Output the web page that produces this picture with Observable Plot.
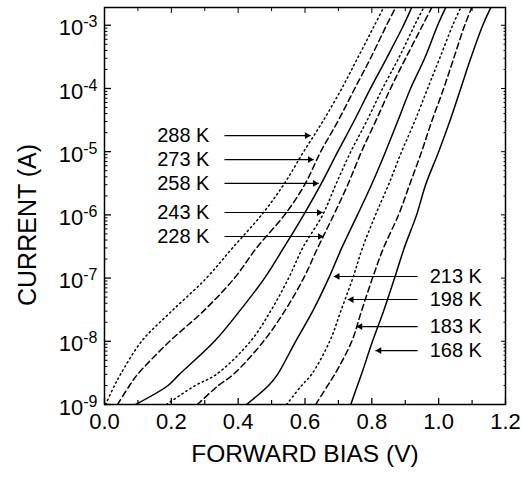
<!DOCTYPE html>
<html><head><meta charset="utf-8">
<script src="https://cdn.jsdelivr.net/npm/d3@7"></script>
<script src="https://cdn.jsdelivr.net/npm/@observablehq/plot@0.6"></script>
<style>
html,body{margin:0;padding:0;background:#fff;}
</style>
</head><body><div id="chart"></div>
<script>
// ---- data ----
const temperatures = [288, 273, 258, 243, 228, 213, 198, 183, 168];
const currentLevels = [1e-9, 2e-9, 3e-9, 1e-8, 3e-8, 1e-7, 3e-7, 1e-6, 3e-6, 1e-5, 3e-5, 1e-4, 3e-4, 1e-3, 1.9e-3];
const V288 = [0.003, 0.030, 0.048, 0.111, 0.201, 0.305, 0.383, 0.470, 0.536, 0.596, 0.653, 0.710, 0.757, 0.808, 0.835];
const V273 = [0.039, 0.075, 0.099, 0.195, 0.296, 0.389, 0.455, 0.539, 0.599, 0.647, 0.698, 0.749, 0.796, 0.844, 0.871];
const V258 = [0.093, 0.190, 0.224, 0.329, 0.404, 0.479, 0.536, 0.596, 0.647, 0.698, 0.746, 0.796, 0.844, 0.895, 0.919];
const V243 = [0.185, 0.272, 0.335, 0.437, 0.497, 0.551, 0.593, 0.653, 0.692, 0.737, 0.784, 0.832, 0.880, 0.928, 0.955];
const V228 = [0.278, 0.341, 0.386, 0.476, 0.539, 0.596, 0.638, 0.686, 0.728, 0.769, 0.811, 0.856, 0.901, 0.952, 0.979];
const V213 = [0.425, 0.491, 0.518, 0.572, 0.623, 0.671, 0.710, 0.757, 0.799, 0.841, 0.877, 0.916, 0.958, 0.997, 1.021];
const V198 = [0.545, 0.590, 0.620, 0.674, 0.707, 0.743, 0.772, 0.811, 0.850, 0.889, 0.928, 0.967, 1.003, 1.042, 1.066];
const V183 = [0.632, 0.668, 0.689, 0.740, 0.769, 0.802, 0.835, 0.880, 0.913, 0.949, 0.979, 1.015, 1.045, 1.078, 1.099];
const V168 = [0.737, 0.757, 0.769, 0.802, 0.835, 0.868, 0.897, 0.934, 0.961, 1.000, 1.033, 1.066, 1.096, 1.132, 1.156];
const voltageSeries = [V288, V273, V258, V243, V228, V213, V198, V183, V168];

const xTickValues = [0, 0.2, 0.4, 0.6, 0.8, 1.0, 1.2];
const xMinorTickValues = [0.1, 0.3, 0.5, 0.7, 0.9, 1.1];
const yTickValues = [1e-9, 1e-8, 1e-7, 1e-6, 1e-5, 1e-4, 1e-3];

// annotation labels (temperature, current at arrow, voltage of arrow tip)
const leftLabelTemps = [288, 273, 258, 243, 228];
const leftLabelCurrent = [1.8e-5, 7.5e-6, 3.14e-6, 1.09e-6, 4.55e-7];
const leftArrowTipV = [0.617, 0.626, 0.641, 0.653, 0.656];
const rightLabelTemps = [213, 198, 183, 168];
const rightLabelCurrent = [1.06e-7, 4.58e-8, 1.71e-8, 7.14e-9];
const rightArrowTipV = [0.686, 0.728, 0.754, 0.811];

// ---- styles ----
const styleCycle = ["dotted", "dashed", "solid"];
const dashes = {dotted: "1.4 3.3", dashed: "6 3.6", solid: null};

// ---- build tables ----
const rows = [];
temperatures.forEach((T, i) => {
  voltageSeries[i].forEach((v, j) => rows.push({T, V: v, I: currentLevels[j], style: styleCycle[i % 3]}));
});
const leftLabels = leftLabelTemps.map((t, i) => ({label: `${t} K`, I: leftLabelCurrent[i], tip: leftArrowTipV[i]}));
const rightLabels = rightLabelTemps.map((t, i) => ({label: `${t} K`, I: rightLabelCurrent[i], tip: rightArrowTipV[i]}));

const yMinorTicks = [];
yTickValues.forEach(d => { for (let k = 2; k <= 9; k++) { const v = d * k; if (v <= 1.91e-3) yMinorTicks.push(v); } });

const font = "Liberation Sans, Arial, Helvetica, sans-serif";

const lineMarks = styleCycle.map(s => Plot.line(rows.filter(r => r.style === s), {
  x: "V", y: "I", z: "T", stroke: "#000",
  strokeWidth: 1.5,
  strokeDasharray: dashes[s],
  curve: "catmull-rom", clip: true
}));

const plot = Plot.plot({
  width: 532, height: 477,
  marginLeft: 104, marginRight: 27, marginTop: 7, marginBottom: 73,
  style: {fontFamily: font, fontSize: "22px", color: "#000", background: "#fff"},
  x: {domain: [0, 1.2]},
  y: {type: "log", domain: [1e-9, 1.91e-3]},
  marks: [
    // inward ticks
    Plot.axisX({anchor: "bottom", ticks: xTickValues, tickSize: -6, fill: "none", label: null, strokeWidth: 1.3}),
    Plot.axisX({anchor: "bottom", ticks: xMinorTickValues, tickSize: -4, fill: "none", label: null, strokeWidth: 1.2}),
    Plot.axisX({anchor: "top", ticks: xTickValues, tickSize: -5, fill: "none", label: null}),
    Plot.axisX({anchor: "top", ticks: xMinorTickValues, tickSize: -3, fill: "none", label: null}),
    Plot.axisY({anchor: "left", ticks: yTickValues, tickSize: -7, fill: "none", label: null, strokeWidth: 1.3}),
    Plot.axisY({anchor: "left", ticks: yMinorTicks, tickSize: -3.5, fill: "none", label: null}),
    Plot.axisY({anchor: "right", ticks: yTickValues, tickSize: -5, fill: "none", label: null}),
    Plot.axisY({anchor: "right", ticks: yMinorTicks, tickSize: -2.5, fill: "none", label: null}),
    // tick labels
    Plot.axisX({anchor: "bottom", ticks: xTickValues, tickSize: 0, tickPadding: 9, label: null,
      tickFormat: d => d.toFixed(1), fontSize: 22}),
    Plot.axisY({anchor: "left", ticks: yTickValues, tickSize: 0, tickPadding: 7, label: null,
      tickFormat: d => "10^" + Math.round(Math.log10(d)), fontSize: 22, dy: 3}),
    // curves
    ...lineMarks,
    // annotation arrows: shafts + filled heads
    Plot.link(leftLabels, {x1: 0.359, y1: "I", x2: "tip", y2: "I", stroke: "#000", strokeWidth: 1.2}),
    Plot.link(rightLabels, {x1: 0.937, y1: "I", x2: "tip", y2: "I", stroke: "#000", strokeWidth: 1.2}),
    Plot.dot(leftLabels, {x: "tip", y: "I", symbol: "triangle", rotate: 90, r: 2.5, fill: "#000", stroke: null, dx: -3.8}),
    Plot.dot(rightLabels, {x: "tip", y: "I", symbol: "triangle", rotate: -90, r: 2.5, fill: "#000", stroke: null, dx: 3.8}),
    Plot.text(leftLabels, {x: 0.314, y: "I", text: "label", textAnchor: "end", fontSize: 20, fill: "#000"}),
    Plot.text(rightLabels, {x: 0.973, y: "I", text: "label", textAnchor: "start", fontSize: 20, fill: "#000"}),
    // axis titles
    Plot.text(["FORWARD BIAS (V)"], {frameAnchor: "bottom", dy: 50, lineAnchor: "middle", textAnchor: "middle", fontSize: 24.5, fill: "#000"}),
    Plot.text(["CURRENT (A)"], {frameAnchor: "left", dx: -77, dy: 19, rotate: -90, textAnchor: "middle", lineAnchor: "middle", fontSize: 25, fill: "#000"}),
    Plot.frame({stroke: "#000", strokeWidth: 1.5})
  ]
});

// superscript exponents on the y tick labels
d3.select(plot).selectAll('g[aria-label="y-axis tick label"] text').each(function () {
  const s = this.textContent;
  const parts = s.split("^");
  if (parts.length !== 2) return;
  this.textContent = "";
  const t = d3.select(this);
  t.append("tspan").text(parts[0]);
  t.append("tspan").attr("dy", "-0.5em").attr("font-size", "16px").text(parts[1]);
});

document.getElementById("chart").appendChild(plot);
</script>
</body></html>
